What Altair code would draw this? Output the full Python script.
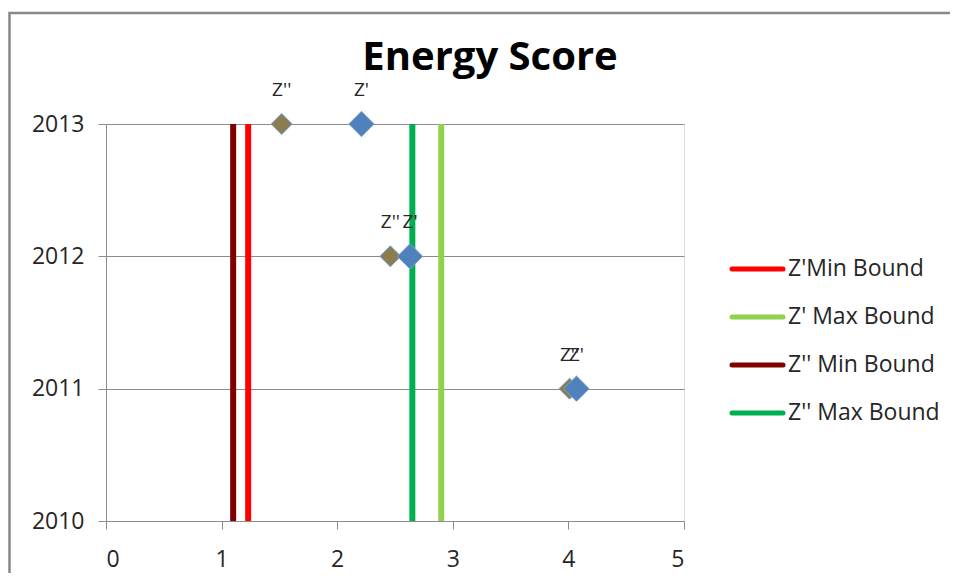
import altair as alt
import pandas as pd

# ---- data ----
years = [2013, 2013, 2012, 2012, 2011, 2011]
series = ["Z''", "Z'", "Z''", "Z'", "Z''", "Z'"]
scores = [1.52, 2.21, 2.46, 2.63, 4.01, 4.07]

series_names = ["Z''", "Z'"]
series_fill = ["#8b7d50", "#4f81bd"]
series_size = [440, 640]

bound_names = ["Z'Min Bound", "Z' Max Bound", "Z'' Min Bound", "Z'' Max Bound"]
bound_values = [1.23, 2.90, 1.10, 2.65]
bound_colors = ["#ff0000", "#92d050", "#7f0000", "#00b050"]

x_ticks = [0, 1, 2, 3, 4, 5]
y_ticks = [2010, 2011, 2012, 2013]
title_text = "Energy Score"

FONT = "Open Sans"
GRID = "#8c8c8c"
TXT = "#262626"

pts = pd.DataFrame({"year": years, "series": series, "score": scores})
bounds = pd.DataFrame({"name": bound_names, "value": bound_values})
titled = pd.DataFrame({"t": [title_text]})

xscale = alt.Scale(domain=[0, 5], nice=False, zero=False)
yscale = alt.Scale(domain=[2010, 2013], nice=False, zero=False)
cscale = alt.Scale(domain=bound_names, range=bound_colors)

x_axis = alt.Axis(values=x_ticks, grid=False, domainColor=GRID, tickColor=GRID,
                  tickSize=8, labelFont=FONT, labelFontSize=23, labelColor=TXT,
                  labelPadding=19, format="d")
y_axis = alt.Axis(values=y_ticks, grid=True, gridColor=GRID, domainColor=GRID,
                  tickColor=GRID, tickSize=8, labelFont=FONT, labelFontSize=23,
                  labelColor=TXT, labelPadding=14, format="d")

frame = alt.Chart(titled).mark_rect(fillOpacity=0, stroke="#888888", strokeWidth=2.5).encode(
    x=alt.value(-96.5), x2=alt.value(1000), y=alt.value(-111), y2=alt.value(600)
)

title = alt.Chart(titled).mark_text(
    font=FONT, fontSize=40, fontWeight="bold", color="black",
    align="center", baseline="alphabetic"
).encode(x=alt.value(384), y=alt.value(-54), text="t:N")

rules = alt.Chart(bounds).mark_rule(strokeWidth=6).encode(
    x=alt.X("value:Q", scale=xscale, axis=x_axis, title=None),
    color=alt.Color("name:N", scale=cscale, legend=None),
)

points = alt.Chart(pts).mark_point(shape="diamond", filled=True, opacity=1,
                                   stroke="#7aa0d0", strokeWidth=1).encode(
    x=alt.X("score:Q", scale=xscale, axis=x_axis, title=None),
    y=alt.Y("year:Q", scale=yscale, axis=y_axis, title=None),
    fill=alt.Fill("series:N", scale=alt.Scale(domain=series_names, range=series_fill), legend=None),
    size=alt.Size("series:N", scale=alt.Scale(domain=series_names, range=series_size), legend=None),
)

labels = alt.Chart(pts).mark_text(font=FONT, fontSize=19, color=TXT, dy=-34,
                                  baseline="middle").encode(
    x=alt.X("score:Q", scale=xscale),
    y=alt.Y("year:Q", scale=yscale),
    text="series:N",
)

main = alt.layer(frame, rules, points, labels, title)

lscale = alt.Scale(domain=bound_names, range=[121, 313], padding=0)
leg_rules = alt.Chart(bounds).mark_rule(strokeWidth=5, strokeCap="round").encode(
    x=alt.value(626), x2=alt.value(677),
    y=alt.Y("name:N", scale=lscale, axis=None, sort=bound_names),
    color=alt.Color("name:N", scale=cscale, legend=None),
)
leg_text = alt.Chart(bounds).mark_text(font=FONT, fontSize=23, color=TXT,
                                       align="left", baseline="middle").encode(
    x=alt.value(682),
    y=alt.Y("name:N", scale=lscale, axis=None, sort=bound_names),
    text="name:N",
)
legend = alt.layer(leg_rules, leg_text)

chart = alt.layer(main, legend).resolve_scale(y="independent").properties(
    width=578, height=397,
    autosize=alt.AutoSizeParams(type="none"),
    padding={"left": 98, "top": 116, "right": 266, "bottom": 52},
).configure_view(strokeWidth=0).configure(background="white")

chart.save("out.html", embed_options={"renderer": "svg", "actions": False})
